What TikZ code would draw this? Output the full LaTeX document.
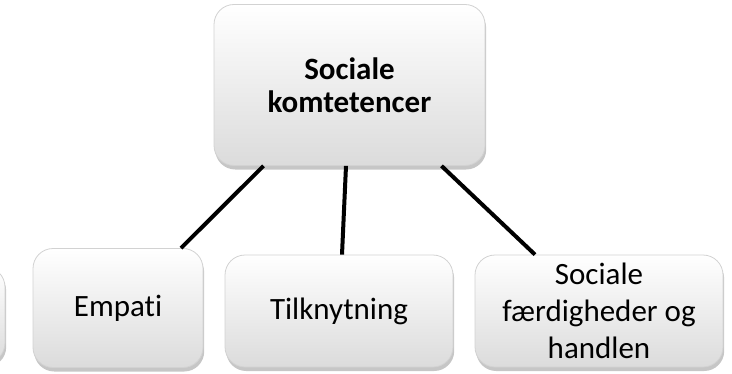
\documentclass[tikz,border=0pt]{standalone}
\usepackage{fontspec}
\setmainfont{Carlito}[Ligatures=NoCommon]
\usetikzlibrary{shadows}
\begin{document}
\begin{tikzpicture}[x=0.5pt,y=-0.5pt]
  \tikzstyle{box}=[draw=gray!35, line width=0.4pt, rounded corners=10pt,
    top color=white, bottom color=gray!28, inner sep=0pt, align=center,
    drop shadow={shadow xshift=0.6pt, shadow yshift=-2pt, opacity=0.45},
    font=\fontsize{15.5}{18.5}\selectfont]
  \tikzstyle{link}=[line width=2pt, black]
  \useasboundingbox (0,0) rectangle (732,374);
  \node[box, minimum width=135.5pt, minimum height=80.5pt,
    font=\bfseries\fontsize{15.5}{16.5}\selectfont] (komp) at (349.5,85) {Sociale\\komtetencer};
  \node[box, minimum width=80pt, minimum height=48pt] (venstre) at (-75,315) {};
  \node[box, minimum width=85pt, minimum height=59.5pt] (empati) at (118,308) {Empati};
  \node[box, minimum width=114pt, minimum height=56pt] (tilknyt) at (339,311) {Tilknytning};
  \node[box, minimum width=124pt, minimum height=56pt] (handlen) at (599,311)
    {Sociale\\færdigheder og\\handlen};
  \draw[link] ([xshift=-43pt]komp.south) -- ([xshift=31.5pt]empati.north);
  \draw[link] ([xshift=-1.75pt]komp.south) -- ([xshift=1.5pt]tilknyt.north);
  \draw[link] ([xshift=46pt]komp.south) -- ([xshift=-32pt]handlen.north);
\end{tikzpicture}
\end{document}
